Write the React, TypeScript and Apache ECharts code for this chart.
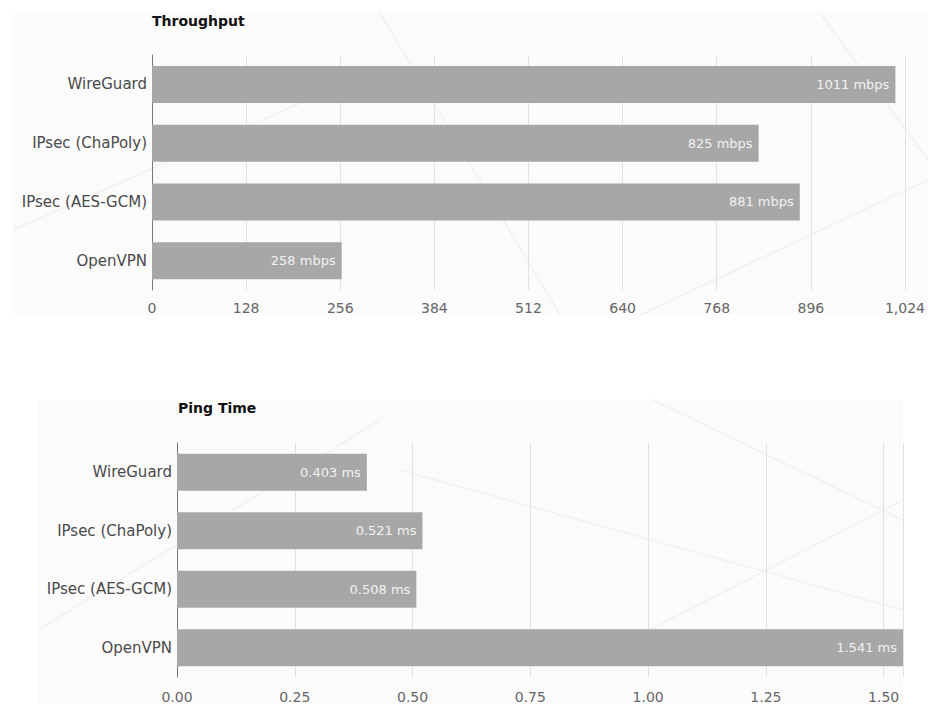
import React, { useEffect, useRef } from "react";
import * as echarts from "echarts";

const categories = ["WireGuard", "IPsec (ChaPoly)", "IPsec (AES-GCM)", "OpenVPN"];
const throughputMbps = [1011, 825, 881, 258];
const pingMs = [0.403, 0.521, 0.508, 1.541];
const throughputTicks = [0, 128, 256, 384, 512, 640, 768, 896, 1024];

const FONT = "DejaVu Sans, Verdana, sans-serif";
const BAR = "#a7a7a7";

export default function App() {
  const ref = useRef<HTMLDivElement>(null);
  useEffect(() => {
    if (!ref.current) return;
    const chart = echarts.init(ref.current, undefined, { renderer: "svg" });
    const faint = { stroke: "#f1f1f1", lineWidth: 1.5 };
    chart.setOption({
      animation: false,
      backgroundColor: "#ffffff",
      textStyle: { fontFamily: FONT },
      graphic: [
        { type: "rect", z: -10, shape: { x: 13, y: 13, width: 915, height: 302 }, style: { fill: "#fbfbfb" } },
        { type: "rect", z: -10, shape: { x: 38, y: 400, width: 865, height: 304 }, style: { fill: "#fbfbfb" } },
        { type: "line", z: -9, shape: { x1: 13, y1: 230, x2: 330, y2: 90 }, style: faint },
        { type: "line", z: -9, shape: { x1: 640, y1: 315, x2: 928, y2: 180 }, style: faint },
        { type: "line", z: -9, shape: { x1: 820, y1: 13, x2: 928, y2: 160 }, style: faint },
        { type: "line", z: -9, shape: { x1: 380, y1: 13, x2: 560, y2: 315 }, style: faint },
        { type: "line", z: -9, shape: { x1: 653, y1: 400, x2: 903, y2: 520 }, style: faint },
        { type: "line", z: -9, shape: { x1: 400, y1: 470, x2: 903, y2: 610 }, style: faint },
        { type: "line", z: -9, shape: { x1: 630, y1: 640, x2: 903, y2: 500 }, style: faint },
        { type: "line", z: -9, shape: { x1: 38, y1: 630, x2: 380, y2: 420 }, style: faint }
      ],
      title: [
        {
          text: "Throughput",
          left: 147,
          top: 9,
          textStyle: { fontSize: 14, fontWeight: "bold", color: "#111", fontFamily: FONT }
        },
        {
          text: "Ping Time",
          left: 173,
          top: 396,
          textStyle: { fontSize: 14, fontWeight: "bold", color: "#111", fontFamily: FONT }
        }
      ],
      grid: [
        { left: 152, right: 22, top: 55, height: 235 },
        { left: 177, right: 25, top: 443, height: 234 }
      ],
      xAxis: [
        {
          type: "value",
          gridIndex: 0,
          min: throughputTicks[0],
          max: throughputTicks[throughputTicks.length - 1],
          interval: 128,
          axisLine: { show: false },
          axisTick: { show: false },
          splitLine: { show: true, lineStyle: { color: "#e2e2e2" } },
          axisLabel: {
            margin: 11,
            color: "#666",
            fontSize: 14,
            fontFamily: FONT,
            formatter: (v: number) => v.toLocaleString("en-US")
          }
        },
        {
          type: "value",
          gridIndex: 1,
          min: 0,
          max: "dataMax",
          interval: 0.25,
          axisLine: { show: false },
          axisTick: { show: false },
          splitLine: { show: true, lineStyle: { color: "#e2e2e2" } },
          axisLabel: {
            margin: 13,
            color: "#666",
            fontSize: 14,
            fontFamily: FONT,
            showMaxLabel: false,
            formatter: (v: number) => v.toFixed(2)
          }
        }
      ],
      yAxis: [
        {
          type: "category",
          gridIndex: 0,
          data: categories,
          inverse: true,
          axisLine: { show: true, lineStyle: { color: "#777" } },
          axisTick: { show: false },
          axisLabel: { margin: 5, color: "#4a4a4a", fontSize: 15, fontFamily: FONT }
        },
        {
          type: "category",
          gridIndex: 1,
          data: categories,
          inverse: true,
          axisLine: { show: true, lineStyle: { color: "#777" } },
          axisTick: { show: false },
          axisLabel: { margin: 5, color: "#4a4a4a", fontSize: 15, fontFamily: FONT }
        }
      ],
      series: [
        {
          type: "bar",
          xAxisIndex: 0,
          yAxisIndex: 0,
          data: throughputMbps,
          barWidth: 37,
          itemStyle: { color: BAR },
          label: {
            show: true,
            position: "insideRight",
            distance: 6,
            color: "#f2f2f2",
            fontSize: 13,
            fontFamily: FONT,
            formatter: (p: any) => `${p.value} mbps`
          }
        },
        {
          type: "bar",
          xAxisIndex: 1,
          yAxisIndex: 1,
          data: pingMs,
          barWidth: 37,
          itemStyle: { color: BAR },
          label: {
            show: true,
            position: "insideRight",
            distance: 6,
            color: "#f2f2f2",
            fontSize: 13,
            fontFamily: FONT,
            formatter: (p: any) => `${p.value.toFixed(3)} ms`
          }
        }
      ]
    });
    return () => chart.dispose();
  }, []);
  return <div ref={ref} style={{ width: 928, height: 704, position: "absolute", left: 0, top: 0 }} />;
}
